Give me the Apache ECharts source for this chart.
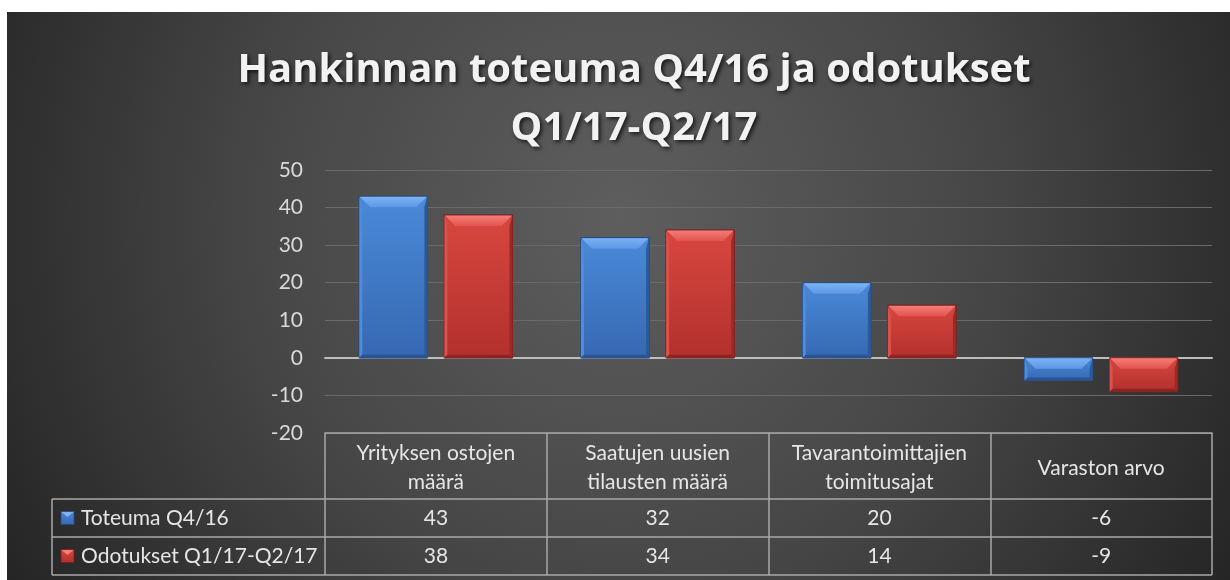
<!DOCTYPE html>
<html>
<head>
<meta charset="utf-8">
<script src="https://cdn.jsdelivr.net/npm/echarts@6/dist/echarts.min.js"></script>
<style>
html,body{margin:0;padding:0;background:#fff;}
#chart{width:1230px;height:580px;}
</style>
</head>
<body>
<div id="chart"></div>
<script>
// ---- data ----
const titleText = 'Hankinnan toteuma Q4/16 ja odotukset\nQ1/17-Q2/17';
const categories = ['Yrityksen ostojen\nmäärä', 'Saatujen uusien\ntilausten määrä', 'Tavarantoimittajien\ntoimitusajat', 'Varaston arvo'];
const seriesNames = ['Toteuma Q4/16', 'Odotukset Q1/17-Q2/17'];
const toteuma = [43, 32, 20, -6];
const odotukset = [38, 34, 14, -9];
const yMin = -20, yMax = 50, yInterval = 10;

// ---- styles ----
const FONT = 'Lato, "Open Sans", sans-serif';
const FS = 21;
const palettes = [
  { top: '#4a8ad9', bottom: '#3668b2', bev0: '#7db2f3', bev1: '#5b98e4', left: '#4f8cdb', right: '#2c5a99', bot: '#2a5490', stroke: '#264d85' },
  { top: '#d8473f', bottom: '#b2302d', bev0: '#f47c78', bev1: '#e2544f', left: '#db524d', right: '#9a2a27', bot: '#8a2522', stroke: '#7a201e' }
];
const allSeries = [toteuma, odotukset];

function grad(c0, c1) {
  return { type: 'linear', x: 0, y: 0, x2: 0, y2: 1, colorStops: [{ offset: 0, color: c0 }, { offset: 1, color: c1 }] };
}

function makeRender(si) {
  const pal = palettes[si];
  return function (params, api) {
    const ci = api.value(0), v = api.value(1);
    const band = api.size([1, 0])[0];
    const bw = band * 0.307, gap = bw * 0.25;
    const off = (si === 0 ? -1 : 1) * (gap / 2 + bw / 2);
    const p0 = api.coord([ci, 0]), p1 = api.coord([ci, v]);
    const l = p0[0] + off - bw / 2, r = l + bw;
    const t = Math.min(p0[1], p1[1]), b = Math.max(p0[1], p1[1]);
    const h = b - t;
    const bev = Math.min(11, h / 2), side = Math.min(3, h / 2);
    return {
      type: 'group',
      children: [
        { type: 'rect', shape: { x: l, y: t, width: bw, height: h }, style: { fill: grad(pal.top, pal.bottom), stroke: pal.stroke, lineWidth: 1 } },
        { type: 'polygon', shape: { points: [[l, t], [l + side, t + bev], [l + side, b - side], [l, b]] }, style: { fill: pal.left } },
        { type: 'polygon', shape: { points: [[r, t], [r - side, t + bev], [r - side, b - side], [r, b]] }, style: { fill: pal.right } },
        { type: 'polygon', shape: { points: [[l, b], [r, b], [r - side, b - side], [l + side, b - side]] }, style: { fill: pal.bot } },
        { type: 'polygon', shape: { points: [[l + 0.5, t + 0.5], [r - 0.5, t + 0.5], [r - bev, t + bev], [l + bev, t + bev]] }, style: { fill: grad(pal.bev0, pal.bev1) } }
      ]
    };
  };
}

const chart = echarts.init(document.getElementById('chart'), null, { renderer: 'canvas' });

const option = {
  backgroundColor: '#ffffff',
  animation: false,
  title: {
    text: titleText,
    left: 629,
    top: 37,
    textAlign: 'center',
    textStyle: {
      fontFamily: '"Open Sans", sans-serif',
      fontWeight: 'bold',
      fontSize: 40,
      lineHeight: 58,
      color: '#f2f2f2',
      textShadowColor: 'rgba(0,0,0,0.75)',
      textShadowBlur: 4,
      textShadowOffsetX: 2,
      textShadowOffsetY: 2
    }
  },
  grid: { left: 325, right: 18, top: 170, bottom: 147, containLabel: false },
  xAxis: [
    {
      type: 'category',
      data: categories,
      boundaryGap: true,
      axisLine: { onZero: false, lineStyle: { color: '#a8a8a8', width: 1.5 } },
      axisTick: { show: true, length: 142, lineStyle: { color: '#a8a8a8', width: 1.5 } },
      axisLabel: { margin: 35, verticalAlign: 'middle', color: '#e6e6e6', fontSize: FS, lineHeight: 29, fontFamily: FONT, interval: 0 },
      splitLine: { show: false }
    },
    {
      type: 'category',
      data: categories,
      axisLine: { show: true, onZero: true, onZeroAxisIndex: 0, lineStyle: { color: '#bdbdbd', width: 2 } },
      axisTick: { show: false },
      axisLabel: { show: false },
      splitLine: { show: false }
    }
  ],
  yAxis: {
    type: 'value',
    min: yMin, max: yMax, interval: yInterval,
    axisLine: { show: false },
    axisTick: { show: false },
    axisLabel: { margin: 22, color: '#d9d9d9', fontSize: FS, fontFamily: FONT },
    splitLine: { show: true, lineStyle: { color: '#6a6a6a', width: 1 } }
  },
  series: allSeries.map((vals, si) => ({
    type: 'custom',
    name: seriesNames[si],
    xAxisIndex: 0,
    yAxisIndex: 0,
    renderItem: makeRender(si),
    encode: { x: 0, y: 1 },
    data: vals.map((v, i) => [i, v]),
    z: 5
  }))
};

chart.setOption(option);

// ---- data table built from axis positions ----
const c0 = chart.convertToPixel({ xAxisIndex: 0 }, 0);
const c1 = chart.convertToPixel({ xAxisIndex: 0 }, 1);
const band = c1 - c0;
const xRight = chart.convertToPixel({ xAxisIndex: 0 }, categories.length - 1) + band / 2;
const yBot = chart.convertToPixel({ yAxisIndex: 0 }, yMin);
const headerH = 66, rowH = 38, legendLeft = 52;
const row1Top = yBot + headerH;
const lineStyle = { stroke: '#a8a8a8', lineWidth: 1.5 };
const graphics = [];

graphics.push({
  type: 'rect', z: -100, silent: true,
  shape: { x: 7, y: 12, width: 1223, height: 568 },
  style: { fill: { type: 'radial', x: 620, y: 215, r: 720, global: true, colorStops: [{ offset: 0, color: '#5e5e5e' }, { offset: 0.5, color: '#474747' }, { offset: 1, color: '#242424' }] } }
});

for (let k = 0; k <= seriesNames.length; k++) {
  const y = row1Top + k * rowH;
  graphics.push({ type: 'line', shape: { x1: legendLeft, y1: y, x2: xRight, y2: y }, style: lineStyle, z: 10 });
}
graphics.push({ type: 'line', shape: { x1: legendLeft, y1: row1Top, x2: legendLeft, y2: row1Top + seriesNames.length * rowH }, style: lineStyle, z: 10 });

seriesNames.forEach((name, si) => {
  const yc = row1Top + si * rowH + rowH / 2;
  const pal = palettes[si];
  graphics.push({ type: 'rect', shape: { x: 61, y: yc - 6.5, width: 13, height: 13 }, style: { fill: grad(pal.top, pal.bottom), stroke: pal.stroke, lineWidth: 0.8 }, z: 10 });
  graphics.push({ type: 'polygon', shape: { points: [[61.5, yc - 6], [73.5, yc - 6], [67.5, yc - 1]] }, style: { fill: pal.bev0 }, z: 11 });
  graphics.push({ type: 'text', x: 81, y: yc, style: { text: name, fill: '#e6e6e6', fontSize: FS, fontFamily: FONT, textVerticalAlign: 'middle', verticalAlign: 'middle' }, z: 10 });
  allSeries[si].forEach((v, ci) => {
    const xc = chart.convertToPixel({ xAxisIndex: 0 }, ci);
    graphics.push({ type: 'text', x: xc, y: yc, style: { text: String(v), fill: '#e6e6e6', fontSize: FS, fontFamily: FONT, align: 'center', textAlign: 'center', verticalAlign: 'middle', textVerticalAlign: 'middle' }, z: 10 });
  });
});

chart.setOption({ graphic: { elements: graphics } });
</script>
</body>
</html>
